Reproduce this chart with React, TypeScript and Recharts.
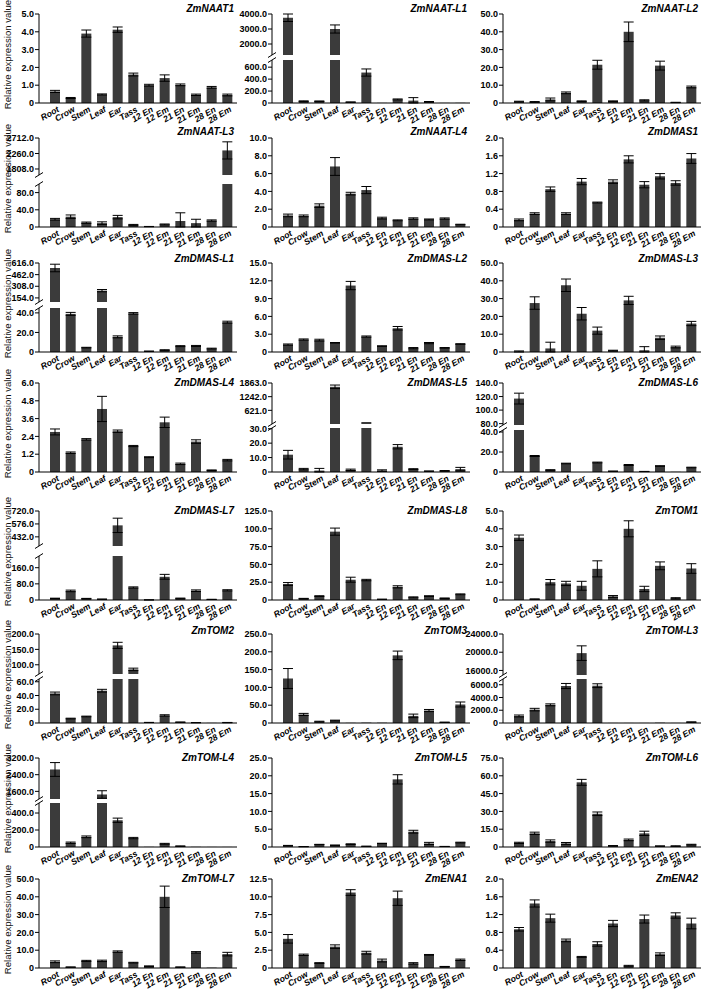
import React from 'react';
import { BarChart, Bar, XAxis, YAxis, ErrorBar } from 'recharts';

const FONT = 'Arial, "Liberation Sans", Helvetica, sans-serif';
const BAR_FILL = '#3b3b3b';

const TISSUES = ['Root', 'Crow', 'Stem', 'Leaf', 'Ear', 'Tass', '12 En', '12 Em', '21 En', '21 Em', '28 En', '28 Em'];

// mean expression / SD per gene, order follows TISSUES
const NAAT1 = [0.65, 0.28, 3.9, 0.48, 4.12, 1.6, 1.0, 1.4, 1.02, 0.46, 0.88, 0.45];
const NAAT1_SD = [0.06, 0.03, 0.2, 0.03, 0.15, 0.08, 0.05, 0.18, 0.05, 0.04, 0.05, 0.05];
const NAAT_L1 = [3750, 30, 30, 3000, 15, 510, 2, 60, 40, 20, 2, 3];
const NAAT_L1_SD = [250, 6, 4, 270, 3, 60, 0, 8, 50, 5, 0, 0];
const NAAT_L2 = [0.8, 0.6, 2.0, 5.7, 1.0, 21.5, 1.0, 40, 1.5, 21, 0.3, 9];
const NAAT_L2_SD = [0.2, 0.2, 0.8, 0.5, 0.2, 2.5, 0.2, 5.5, 0.3, 2.5, 0.1, 0.5];

const NAAT_L3 = [18, 24, 10, 9, 23, 5, 1, 6, 14, 9, 15, 2350];
const NAAT_L3_SD = [2, 4, 1.5, 3, 4, 1, 0.3, 1, 19, 9, 1.5, 250];
const NAAT_L4 = [1.3, 1.25, 2.4, 6.8, 3.75, 4.15, 1.0, 0.75, 0.95, 0.85, 0.95, 0.28];
const NAAT_L4_SD = [0.15, 0.1, 0.2, 1.0, 0.15, 0.4, 0.1, 0.05, 0.08, 0.05, 0.07, 0.03];
const DMAS1 = [0.16, 0.3, 0.85, 0.3, 1.02, 0.55, 1.02, 1.52, 0.95, 1.14, 0.99, 1.54];
const DMAS1_SD = [0.02, 0.02, 0.05, 0.02, 0.07, 0.01, 0.04, 0.08, 0.07, 0.06, 0.05, 0.11];

const DMAS_L1 = [550, 39, 4.5, 250, 15.5, 39.5, 0.8, 2, 6, 6.2, 3.5, 30.5];
const DMAS_L1_SD = [50, 1.5, 0.3, 15, 1, 0.8, 0.1, 0.3, 0.5, 0.5, 0.4, 1];
const DMAS_L2 = [1.25, 2.1, 2.0, 1.55, 11.2, 2.6, 1.0, 4.0, 0.65, 1.5, 0.7, 1.35];
const DMAS_L2_SD = [0.1, 0.1, 0.15, 0.05, 0.7, 0.1, 0.05, 0.3, 0.1, 0.1, 0.05, 0.05];
const DMAS_L3 = [0.3, 27.5, 2, 37.5, 21.5, 12, 0.8, 29, 1, 8, 2.8, 16];
const DMAS_L3_SD = [0.3, 3.5, 3.5, 3.5, 3.5, 2, 0.2, 2.3, 2, 1, 0.5, 1.2];

const DMAS_L4 = [2.7, 1.3, 2.2, 4.25, 2.75, 1.75, 1.0, 3.35, 0.55, 2.05, 0.12, 0.8];
const DMAS_L4_SD = [0.2, 0.05, 0.05, 0.85, 0.08, 0.04, 0.03, 0.35, 0.05, 0.12, 0.02, 0.05];
const DMAS_L5 = [12, 2, 1, 1690, 1.5, 90, 1, 17.5, 2, 0.6, 0.8, 2];
const DMAS_L5_SD = [3, 0.5, 1.5, 80, 0.5, 0, 0.5, 1.5, 0.3, 0.1, 0.2, 1.2];
const DMAS_L6 = [117, 16, 2, 8.5, 0, 9.5, 0.8, 7, 0.5, 6, 0.2, 4.5];
const DMAS_L6_SD = [8, 0.5, 0.3, 0.3, 0, 0.4, 0.1, 0.5, 0.1, 0.3, 0, 0.3];

const DMAS_L7 = [8, 45, 7, 4, 560, 62, 0.5, 115, 8, 46, 3, 48];
const DMAS_L7_SD = [1, 4, 1, 0.5, 80, 3, 0.1, 12, 1.5, 4, 0.5, 3];
const DMAS_L8 = [22.5, 2, 5.5, 96, 28.5, 28, 1, 18.5, 3.8, 5.5, 2.5, 8];
const DMAS_L8_SD = [2, 0.3, 0.5, 5, 3.5, 1, 0.2, 1.5, 0.6, 0.5, 0.3, 0.6];
const TOM1 = [3.5, 0.05, 1.0, 0.93, 0.8, 1.75, 0.2, 4.0, 0.62, 1.92, 0.1, 1.77];
const TOM1_SD = [0.15, 0.01, 0.15, 0.12, 0.25, 0.45, 0.05, 0.45, 0.15, 0.22, 0.03, 0.27];

const TOM2 = [43, 6.5, 9.5, 47, 163, 85, 0.8, 11, 1.2, 0.5, 0.2, 0.6];
const TOM2_SD = [2, 0.5, 0.5, 2, 10, 4, 0.1, 1, 0.3, 0.1, 0, 0.2];
const TOM3 = [125, 24, 4, 7, 0.5, 1, 0.8, 190, 20, 35, 2, 52];
const TOM3_SD = [28, 3, 1, 1, 0, 0, 0, 12, 5, 3, 0.5, 7];
const TOM_L3 = [1100, 2100, 2850, 5800, 19800, 5850, 10, 10, 10, 50, 10, 150];
const TOM_L3_SD = [150, 200, 150, 400, 1600, 300, 0, 0, 0, 0, 0, 20];

const TOM_L4 = [2650, 50, 120, 1450, 315, 105, 2, 38, 10, 2, 1, 1];
const TOM_L4_SD = [330, 8, 10, 180, 25, 8, 0, 5, 3, 0, 0, 0];
const TOM_L5 = [0.4, 0.1, 0.7, 0.5, 0.8, 0.2, 1.0, 19, 4.3, 1.0, 0.15, 1.25];
const TOM_L5_SD = [0.05, 0.02, 0.05, 0.05, 0.1, 0.02, 0.05, 1.3, 0.4, 0.3, 0.02, 0.1];
const TOM_L6 = [3.5, 11.5, 5, 3, 54.5, 28, 1, 6, 11.5, 0.8, 0.8, 2];
const TOM_L6_SD = [0.5, 1, 1, 0.8, 2.5, 1.5, 0.2, 0.7, 1.8, 0.1, 0.2, 0.3];

const TOM_L7 = [3.5, 0.5, 4, 4, 9.2, 3, 1, 40, 0.5, 8.8, 0.2, 7.8];
const TOM_L7_SD = [0.5, 0.1, 0.3, 0.4, 0.4, 0.2, 0.2, 6, 0.1, 0.4, 0, 1];
const ENA1 = [4.1, 1.85, 0.7, 3.0, 10.6, 2.15, 1.05, 9.8, 0.65, 1.85, 0.2, 1.15];
const ENA1_SD = [0.6, 0.1, 0.05, 0.25, 0.4, 0.2, 0.2, 1.0, 0.1, 0.05, 0.02, 0.1];
const ENA2 = [0.87, 1.45, 1.12, 0.62, 0.25, 0.54, 1.0, 0.05, 1.1, 0.31, 1.18, 1.0];
const ENA2_SD = [0.04, 0.08, 0.09, 0.03, 0.01, 0.05, 0.07, 0.01, 0.09, 0.03, 0.06, 0.12];

type Seg = { min: number; max: number; ticks: number[] };
type PanelCfg = {
  title: string;
  values: number[];
  sd: number[];
  axis?: Seg;
  upper?: Seg;
  lower?: Seg;
  split?: [number, number]; // upper height, gap (px)
};

const PANELS: PanelCfg[] = [
  { title: 'ZmNAAT1', values: NAAT1, sd: NAAT1_SD, axis: { min: 0, max: 5, ticks: [0, 1, 2, 3, 4, 5] } },
  { title: 'ZmNAAT-L1', values: NAAT_L1, sd: NAAT_L1_SD, upper: { min: 1267, max: 4000, ticks: [2000, 3000, 4000] }, lower: { min: 0, max: 720, ticks: [0, 200, 400, 600] }, split: [41, 5] },
  { title: 'ZmNAAT-L2', values: NAAT_L2, sd: NAAT_L2_SD, axis: { min: 0, max: 50, ticks: [0, 10, 20, 30, 40, 50] } },
  { title: 'ZmNAAT-L3', values: NAAT_L3, sd: NAAT_L3_SD, upper: { min: 1633, max: 2712, ticks: [1808, 2260, 2712] }, lower: { min: 0, max: 100, ticks: [0, 40, 80] }, split: [37, 9] },
  { title: 'ZmNAAT-L4', values: NAAT_L4, sd: NAAT_L4_SD, axis: { min: 0, max: 10, ticks: [0, 2, 4, 6, 8, 10] } },
  { title: 'ZmDMAS1', values: DMAS1, sd: DMAS1_SD, axis: { min: 0, max: 2, ticks: [0, 0.4, 0.8, 1.2, 1.6, 2.0] } },
  { title: 'ZmDMAS-L1', values: DMAS_L1, sd: DMAS_L1_SD, upper: { min: 100, max: 616, ticks: [154, 308, 462, 616] }, lower: { min: 0, max: 45, ticks: [0, 20, 40] }, split: [39, 6] },
  { title: 'ZmDMAS-L2', values: DMAS_L2, sd: DMAS_L2_SD, axis: { min: 0, max: 15, ticks: [0, 3, 6, 9, 12, 15] } },
  { title: 'ZmDMAS-L3', values: DMAS_L3, sd: DMAS_L3_SD, axis: { min: 0, max: 50, ticks: [0, 10, 20, 30, 40, 50] } },
  { title: 'ZmDMAS-L4', values: DMAS_L4, sd: DMAS_L4_SD, axis: { min: 0, max: 6, ticks: [0, 1.2, 2.4, 3.6, 4.8, 6.0] } },
  { title: 'ZmDMAS-L5', values: DMAS_L5, sd: DMAS_L5_SD, upper: { min: 0, max: 1863, ticks: [621, 1242, 1863] }, lower: { min: 0, max: 30.5, ticks: [0, 10, 20, 30] }, split: [41, 4] },
  { title: 'ZmDMAS-L6', values: DMAS_L6, sd: DMAS_L6_SD, upper: { min: 78, max: 140, ticks: [80, 100, 120, 140] }, lower: { min: 0, max: 42, ticks: [0, 20, 40] }, split: [42, 5] },
  { title: 'ZmDMAS-L7', values: DMAS_L7, sd: DMAS_L7_SD, upper: { min: 330, max: 720, ticks: [432, 576, 720] }, lower: { min: 0, max: 218, ticks: [0, 80, 160] }, split: [35, 10] },
  { title: 'ZmDMAS-L8', values: DMAS_L8, sd: DMAS_L8_SD, axis: { min: 0, max: 125, ticks: [0, 25, 50, 75, 100, 125] } },
  { title: 'ZmTOM1', values: TOM1, sd: TOM1_SD, axis: { min: 0, max: 5, ticks: [0, 1, 2, 3, 4, 5] } },
  { title: 'ZmTOM2', values: TOM2, sd: TOM2_SD, upper: { min: 70, max: 200, ticks: [100, 150, 200] }, lower: { min: 0, max: 64, ticks: [0, 20, 40, 60] }, split: [40, 5] },
  { title: 'ZmTOM3', values: TOM3, sd: TOM3_SD, axis: { min: 0, max: 250, ticks: [0, 50, 100, 150, 200, 250] } },
  { title: 'ZmTOM-L3', values: TOM_L3, sd: TOM_L3_SD, upper: { min: 15000, max: 24000, ticks: [16000, 20000, 24000] }, lower: { min: 0, max: 6900, ticks: [0, 2000, 4000, 6000] }, split: [41, 4] },
  { title: 'ZmTOM-L4', values: TOM_L4, sd: TOM_L4_SD, upper: { min: 1234, max: 3200, ticks: [1600, 2400, 3200] }, lower: { min: 0, max: 518, ticks: [0, 200, 400] }, split: [41, 4] },
  { title: 'ZmTOM-L5', values: TOM_L5, sd: TOM_L5_SD, axis: { min: 0, max: 25, ticks: [0, 5, 10, 15, 20, 25] } },
  { title: 'ZmTOM-L6', values: TOM_L6, sd: TOM_L6_SD, axis: { min: 0, max: 75, ticks: [0, 15, 30, 45, 60, 75] } },
  { title: 'ZmTOM-L7', values: TOM_L7, sd: TOM_L7_SD, axis: { min: 0, max: 50, ticks: [0, 10, 20, 30, 40, 50] } },
  { title: 'ZmENA1', values: ENA1, sd: ENA1_SD, axis: { min: 0, max: 12.5, ticks: [0, 2.5, 5, 7.5, 10, 12.5] } },
  { title: 'ZmENA2', values: ENA2, sd: ENA2_SD, axis: { min: 0, max: 2, ticks: [0, 0.4, 0.8, 1.2, 1.6, 2.0] } },
];

// layout
const AXIS_X = [39, 272, 503];
const ZERO_Y = [103, 227, 352, 472, 600, 723, 847, 968];
const TITLE_Y = [12, 135, 262, 386, 514, 634, 761, 882];
const PLOT_W = 198;
const PLOT_H = 89;
const YW = 54;
const MT = 8;
const MB_UPPER = 8;
const XH = 26;

const fmt = (v: number) => (v === 0 ? '0' : v.toFixed(1));

const XTick = (props: any) => {
  const { x, y, payload } = props;
  const tx = x + 5;
  const ty = y + 8;
  return (
    <text x={tx} y={ty} transform={`rotate(-30 ${tx} ${ty})`} textAnchor="end"
      fontSize={8.6} fontWeight="bold" fontStyle="italic" fontFamily={FONT} fill="#000">
      {payload.value}
    </text>
  );
};

function buildRows(values: number[], sd: number[], keep: (v: number) => boolean, errMax: number) {
  return TISSUES.map((name, i) => {
    const v = values[i];
    const e = sd[i];
    const show = keep(v);
    return {
      name,
      v: show ? v : null,
      e: show && e > 0 && v + e <= errMax ? [Math.min(e, v), e] : undefined,
    };
  });
}

function Segment({ data, seg, h, showX }: { data: any[]; seg: Seg; h: number; showX: boolean }) {
  const mb = showX ? 0 : MB_UPPER;
  return (
    <BarChart width={YW + PLOT_W + 4} height={MT + h + (showX ? XH : mb)} data={data}
      margin={{ top: MT, right: 4, bottom: mb, left: 0 }} barSize={10}>
      <XAxis dataKey="name" hide={!showX} interval={0} height={XH} tickLine={false} tickSize={0} tickMargin={0}
        axisLine={{ stroke: '#000', strokeWidth: 1 }} padding={{ left: 8, right: 2 }} tick={<XTick />} />
      <YAxis type="number" domain={[seg.min, seg.max]} allowDataOverflow ticks={seg.ticks} interval={0}
        width={YW} tickSize={4} tickMargin={1} tickFormatter={fmt}
        axisLine={{ stroke: '#000', strokeWidth: 1 }} tickLine={{ stroke: '#000' }}
        tick={{ fontSize: 9, fontWeight: 'bold', fill: '#000', fontFamily: FONT }} />
      <Bar dataKey="v" fill={BAR_FILL} isAnimationActive={false}>
        <ErrorBar dataKey="e" width={5} stroke="#000" strokeWidth={1} direction="y" isAnimationActive={false} />
      </Bar>
    </BarChart>
  );
}

function Panel({ cfg, idx }: { cfg: PanelCfg; idx: number }) {
  const col = idx % 3;
  const row = Math.floor(idx / 3);
  const left = AXIS_X[col] - YW;
  const zero = ZERO_Y[row];
  const top = zero - PLOT_H;

  if (cfg.axis) {
    const data = buildRows(cfg.values, cfg.sd, () => true, cfg.axis.max);
    return (
      <div style={{ position: 'absolute', left, top: top - MT }}>
        <Segment data={data} seg={cfg.axis} h={PLOT_H} showX />
      </div>
    );
  }
  const [uh, gap] = cfg.split!;
  const lh = PLOT_H - uh - gap;
  const lower = cfg.lower!;
  const upper = cfg.upper!;
  const lowData = buildRows(cfg.values, cfg.sd, () => true, lower.max);
  const upData = buildRows(cfg.values, cfg.sd, (v) => v > lower.max, upper.max);
  return (
    <>
      <div style={{ position: 'absolute', left, top: top - MT }}>
        <Segment data={upData} seg={upper} h={uh} showX={false} />
      </div>
      <div style={{ position: 'absolute', left, top: zero - lh - MT }}>
        <Segment data={lowData} seg={lower} h={lh} showX />
      </div>
    </>
  );
}

export default function App() {
  return (
    <div style={{ position: 'absolute', left: 0, top: 0, width: 708, height: 991, background: '#fff', overflow: 'hidden' }}>
      {PANELS.map((p, i) => (
        <Panel key={p.title} cfg={p} idx={i} />
      ))}
      <svg width={708} height={991} style={{ position: 'absolute', left: 0, top: 0, pointerEvents: 'none' }}>
        {ZERO_Y.map((z, r) => {
          const cy = z - PLOT_H / 2 - 4;
          return (
            <text key={`yl${r}`} x={11} y={cy} transform={`rotate(-90 11 ${cy})`} textAnchor="middle"
              fontSize={9.6} fontFamily={FONT} fill="#111">
              Relative expression value
            </text>
          );
        })}
        {PANELS.map((p, i) => {
          const col = i % 3;
          const row = Math.floor(i / 3);
          return (
            <text key={`t${i}`} x={AXIS_X[col] + PLOT_W - 3} y={TITLE_Y[row]} textAnchor="end"
              fontSize={10} fontWeight="bold" fontStyle="italic" fontFamily={FONT} fill="#000">
              {p.title}
            </text>
          );
        })}
        {PANELS.map((p, i) => {
          if (!p.split) return null;
          const col = i % 3;
          const row = Math.floor(i / 3);
          const ax = AXIS_X[col];
          const lh = PLOT_H - p.split[0] - p.split[1];
          const lt = ZERO_Y[row] - lh;
          const ub = lt - p.split[1];
          return (
            <g key={`b${i}`} stroke="#000" strokeWidth={1}>
              <line x1={ax - 4} y1={ub + 2.5} x2={ax + 4} y2={ub - 2.5} />
              <line x1={ax - 4} y1={lt + 2.5} x2={ax + 4} y2={lt - 2.5} />
            </g>
          );
        })}
      </svg>
    </div>
  );
}
